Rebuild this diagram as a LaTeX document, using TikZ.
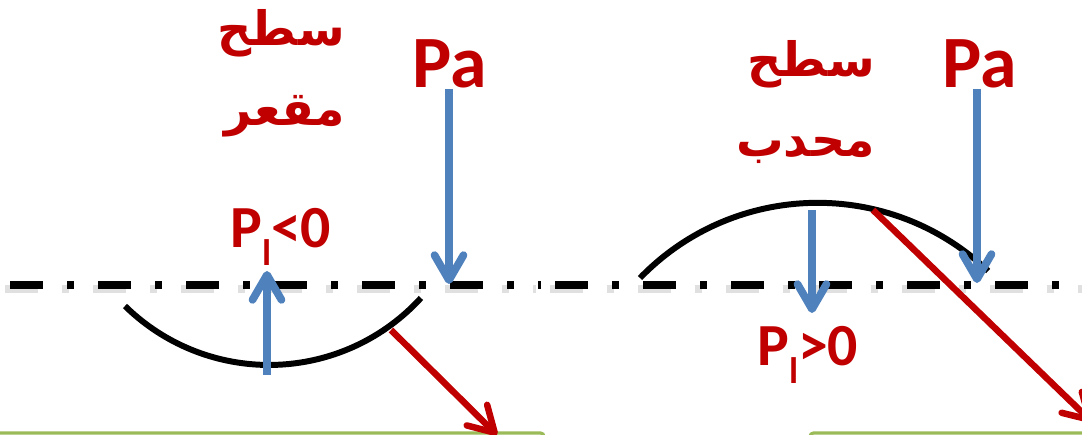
\documentclass[tikz,border=0pt]{standalone}
\usepackage{fontspec}
\setmainfont{Carlito}
\newfontfamily\arabicfont[Script=Arabic]{DejaVu Sans}
\TeXXeTstate=1
\usetikzlibrary{arrows.meta}

\definecolor{tensred}{HTML}{C00000}
\definecolor{pressblue}{HTML}{4F81BD}
\definecolor{plategreen}{HTML}{9BBB59}

\tikzset{
    refline/.style={line width=4.2pt, dash pattern=on 18.8pt off 13.7pt on 4pt off 13.6pt},
    refshadow/.style={refline, black!12, line width=5pt},
    surfline/.style={line width=3.4pt},
    pressarrow/.style={pressblue, line width=4.4pt, -{Straight Barb[round, length=0.5cm, width=0.58cm]}},
    tensarrow/.style={tensred, line width=3.7pt, -{Straight Barb[round, length=0.5cm, width=0.58cm]}},
    plate/.style={plategreen, line width=1.8pt, rounded corners=2pt},
    patext/.style={tensred, inner sep=0pt, font=\bfseries\fontsize{42}{50}\selectfont},
    pltext/.style={tensred, inner sep=0pt, font=\bfseries\fontsize{34}{40}\selectfont},
    artext/.style={tensred, inner sep=0pt, align=right, font=\arabicfont\bfseries\fontsize{27}{46}\selectfont}
}

\begin{document}
\begin{tikzpicture}[x=0.02cm, y=-0.02cm]
    \useasboundingbox (0,0) rectangle (1082,435);
    \clip (0,0) rectangle (1082,435);

    % Plates below (only the top edge shows)
    \draw[plate] (-20,433) rectangle (544,500);
    \draw[plate] (810,433) rectangle (1110,500);

    % Reference level with its shadow
    \draw[refshadow] (5,289) -- (536,289);
    \draw[refshadow] (550,289) -- (1090,289);
    \draw[refline] (10,285) -- (541,285);
    \draw[refline] (555,285) -- (1090,285);

    % Concave surface (left) and convex surface (right)
    \draw[surfline] (125,306) arc[start angle=134.5, end angle=42.4, radius=205.6];
    \draw[surfline] (640,278) arc[start angle=224.1, end angle=313.6, radius=247.3];

    % Labels
    \node[artext, anchor=base east] (arL) at (345,126) {\beginR سطح\endR\\\beginR مقعر\endR};
    \node[artext, anchor=base east] (arR) at (875,157) {\beginR سطح\endR\\\beginR محدب\endR};
    \node[patext, anchor=base] (paL) at (450,88) {Pa};
    \node[patext, anchor=base] (paR) at (980,88) {Pa};
    \node[pltext, anchor=base west] (plL) at (230,248) {P\raisebox{-9.7pt}{\fontsize{21}{21}\selectfont l}<0};
    \node[pltext, anchor=base west] (plR) at (757,366) {P\raisebox{-9.7pt}{\fontsize{21}{21}\selectfont l}>0};

    % Atmospheric pressure
    \coordinate (tipPaL) at (449,284);
    \coordinate (tipPaR) at (977,283);
    \draw[pressarrow] (paL.south -| tipPaL) -- (tipPaL);
    \draw[pressarrow] (paR.south -| tipPaR) -- (tipPaR);

    % Pressure under the surface
    \coordinate (tailPlL) at (267,375);
    \coordinate (tipPlL) at (267,271);
    \coordinate (tailPlR) at (812,210);
    \coordinate (tipPlR) at (812,313);
    \draw[pressarrow] (tailPlL) -- (tipPlL);
    \draw[pressarrow] (tailPlR) -- (tipPlR);

    % Surface tension
    \coordinate (tailTL) at (391,330);
    \coordinate (tipTL) at (497,435);
    \coordinate (tailTR) at (873,210);
    \coordinate (tipTR) at (1092,422);
    \draw[tensarrow] (tailTL) -- (tipTL);
    \draw[tensarrow] (tailTR) -- (tipTR);
\end{tikzpicture}
\end{document}
